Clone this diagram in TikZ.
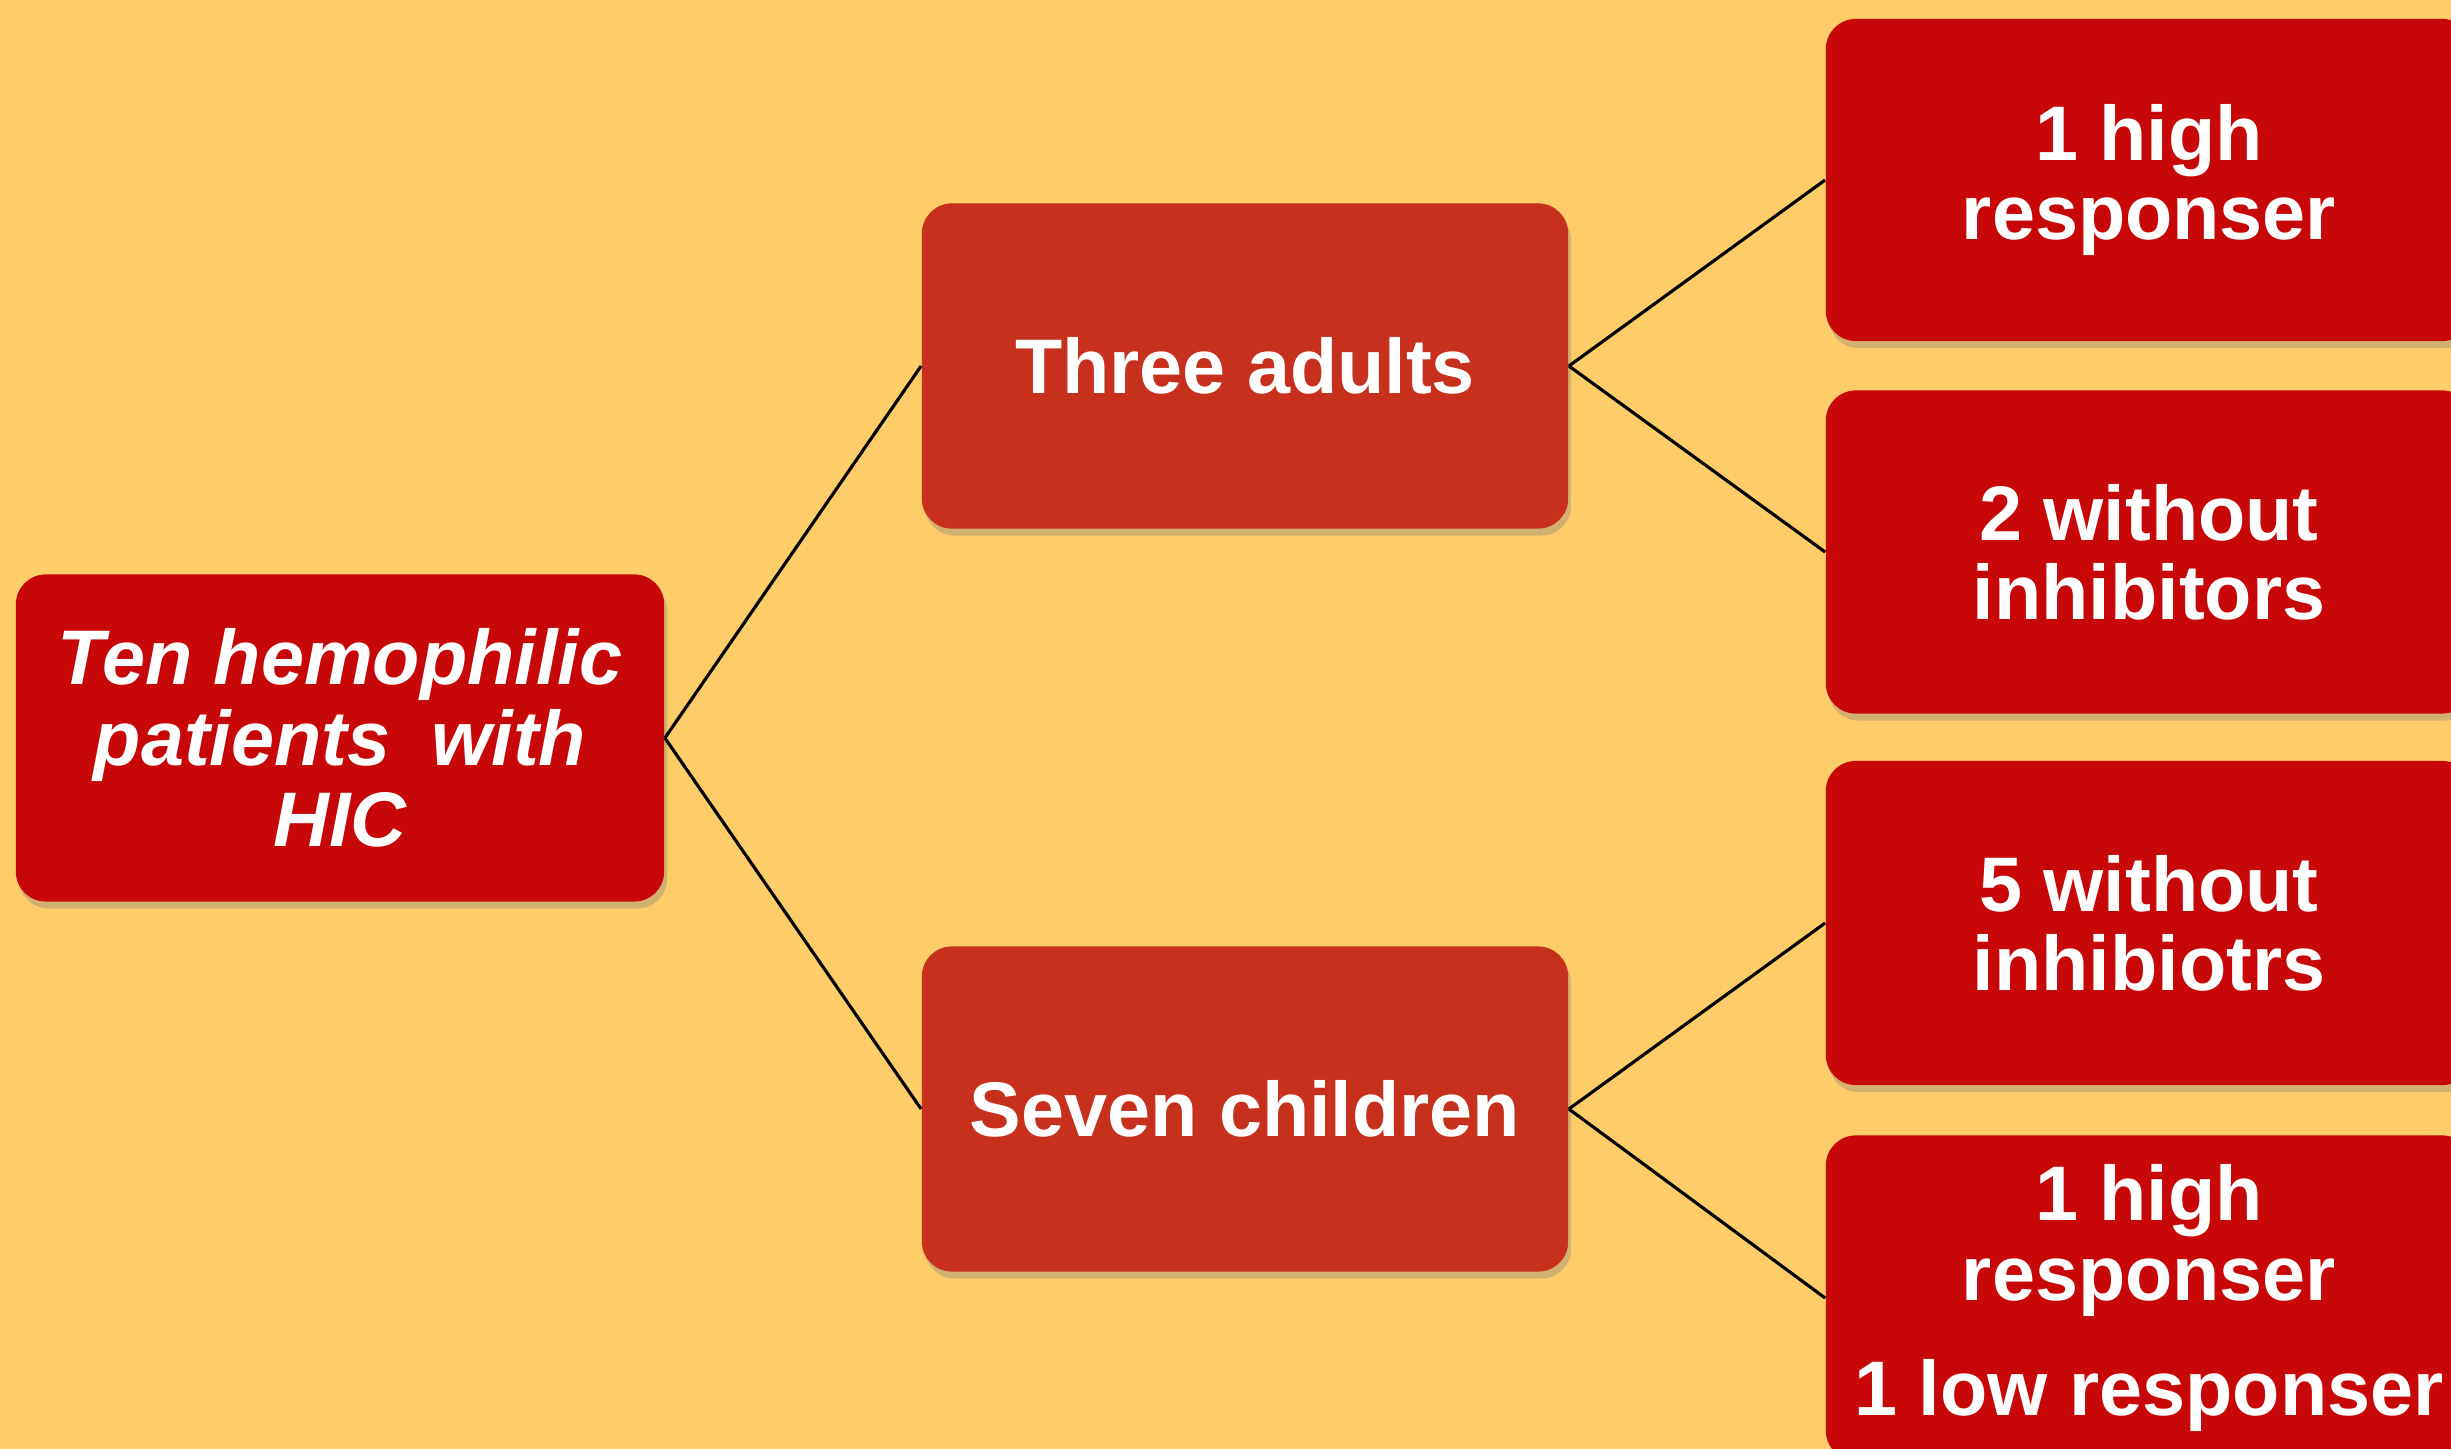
\documentclass[tikz,border=0pt]{standalone}
\usepackage{fontspec}
\setmainfont{Liberation Sans}
\usetikzlibrary{shadows}

\definecolor{bgorange}{RGB}{254,204,104}
\definecolor{deepred}{RGB}{200,8,8}
\definecolor{brickred}{RGB}{198,48,28}

\tikzset{
  box/.style={rounded corners=0.3cm, minimum width=6.46cm, minimum height=3.25cm,
    align=center, text=white, font=\fontsize{22}{22.5}\selectfont\bfseries,
    drop shadow={opacity=.35, shadow xshift=.03cm, shadow yshift=-.07cm}},
  redbox/.style={box, fill=deepred},
  midbox/.style={box, fill=brickred},
  link/.style={line width=.9pt, black}
}

\begin{document}
\begin{tikzpicture}[x=.01cm, y=-.01cm]
\useasboundingbox (0,0) rectangle (2451,1449);
\clip (0,0) rectangle (2451,1449);
\fill [bgorange](0,0) rectangle (2451,1449);

\node [redbox, minimum width=6.48cm, minimum height=3.27cm,
  font=\fontsize{22}{23}\selectfont\bfseries\itshape] (root) at (340,738)
  {Ten hemophilic\\patients\hspace{.25em} with\\HIC};

\node [midbox] (adults) at (1245,366){Three adults};
\node [midbox] (children) at (1245,1109){Seven children};

\node [redbox, minimum height=3.22cm] (high1) at (2149,180){1 high\\responser};
\node [redbox, minimum height=3.23cm] (without2) at (2149,552){2 without\\inhibitors};
\node [redbox, minimum height=3.24cm] (without5) at (2149,923){5 without\\inhibiotrs};
\node [redbox] (highlow) at (2149,1298){1 high\\responser\\[.36cm]1 low responser};

\draw [link](root.east)--(adults.west);
\draw [link](root.east)--(children.west);

\draw [link](adults.east)--(high1.west);
\draw [link](adults.east)--(without2.west);
\draw [link](children.east)--(without5.west);
\draw [link](children.east)--(highlow.west);
\end{tikzpicture}
\end{document}
